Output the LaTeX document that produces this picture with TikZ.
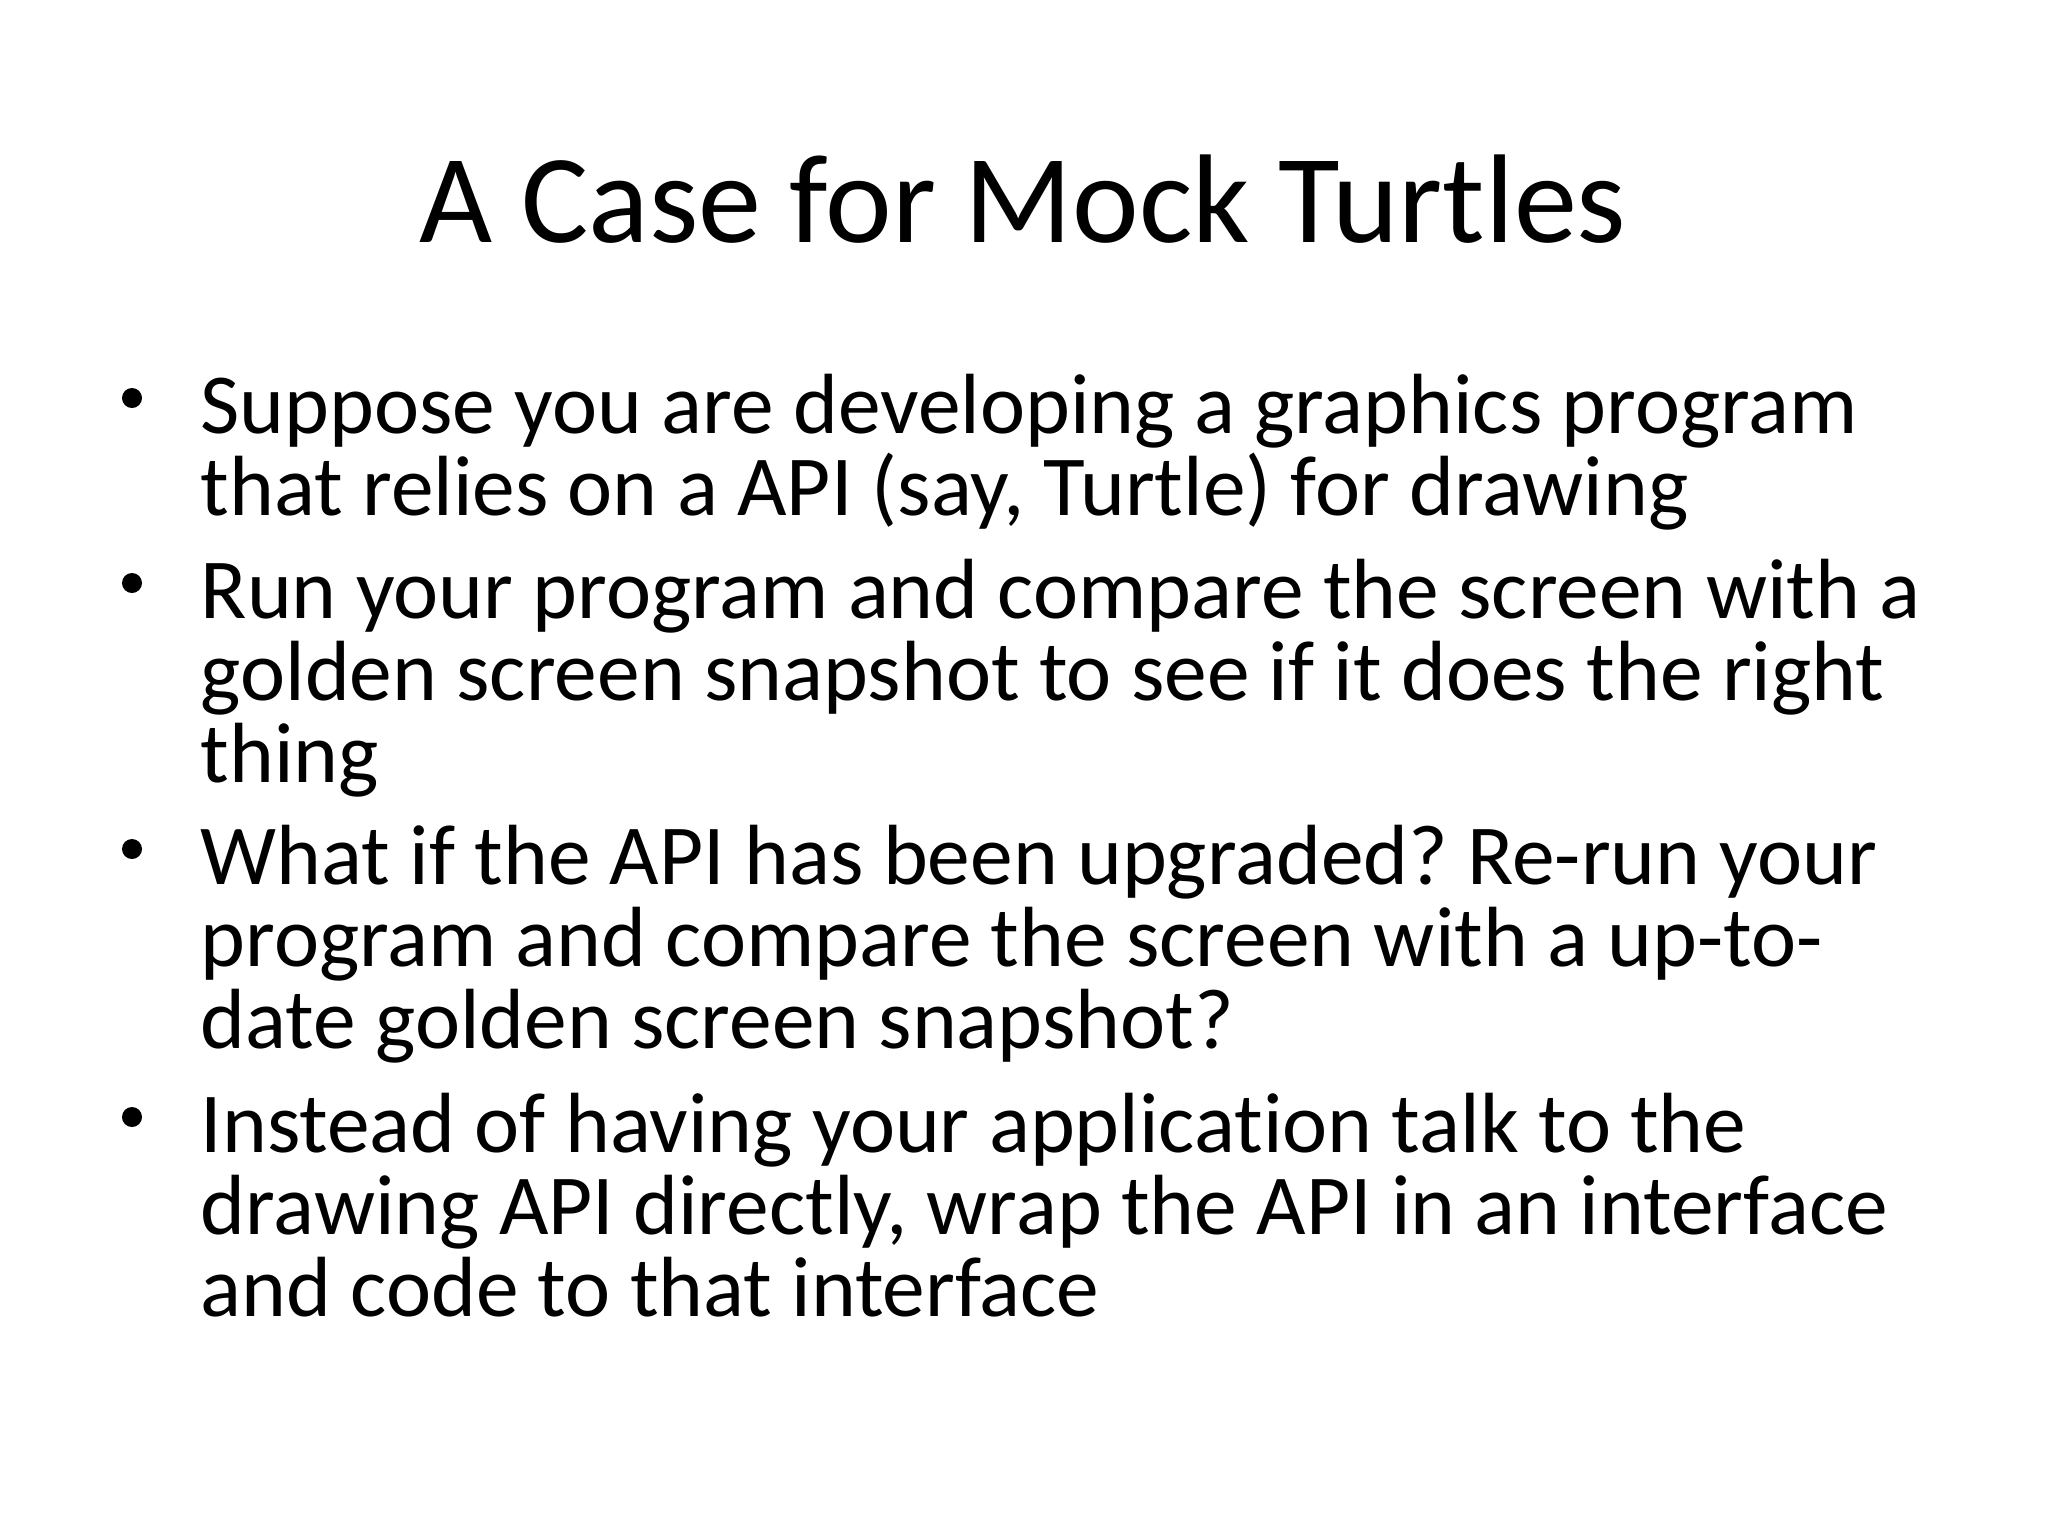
\documentclass[tikz,border=0pt]{standalone}
\usepackage{fontspec}
\setmainfont[Ligatures=NoCommon]{Carlito}
\frenchspacing
\begin{document}
\begin{tikzpicture}[x=0.01cm,y=-0.01cm,
  ln/.style={anchor=base west,inner sep=0pt,font=\fontsize{24.3}{25}\selectfont},
  bul/.style={circle,fill=black,inner sep=0pt,minimum size=0.2cm}]
\useasboundingbox (0,0) rectangle (2048,1536);
\node[anchor=base,inner sep=0pt,font=\fontsize{35.9}{37}\selectfont] (title) at (1023,242) {A Case for Mock Turtles};
\node[bul] (b1) at (132,398) {};
\node[ln] (l1a) at (200,433) {Suppose you are developing a graphics program};
\node[ln] (l1b) at (200,515) {that relies on a API (say, Turtle) for drawing};
\node[bul] (b2) at (132,583) {};
\node[ln] (l2a) at (200,618) {Run your program and compare the screen with a};
\node[ln] (l2b) at (200,700) {golden screen snapshot to see if it does the right};
\node[ln] (l2c) at (200,782) {thing};
\node[bul] (b3) at (132,849) {};
\node[ln] (l3a) at (200,884) {What if the API has been upgraded? Re-run your};
\node[ln] (l3b) at (200,966) {program and compare the screen with a up-to-};
\node[ln] (l3c) at (200,1048) {date golden screen snapshot?};
\node[bul] (b4) at (132,1117) {};
\node[ln] (l4a) at (200,1152) {Instead of having your application talk to the};
\node[ln] (l4b) at (200,1234) {drawing API directly, wrap the API in an interface};
\node[ln] (l4c) at (200,1316) {and code to that interface};
\end{tikzpicture}
\end{document}
